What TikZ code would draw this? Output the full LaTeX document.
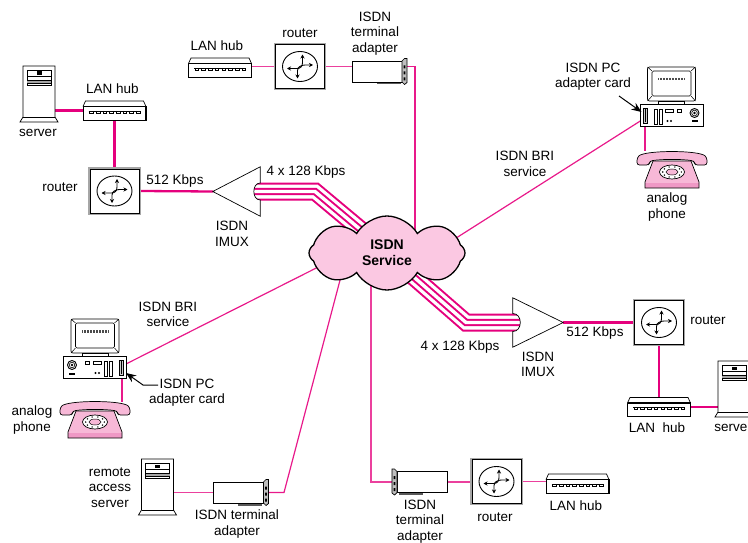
\documentclass[tikz,border=0pt]{standalone}
\usepackage{fontspec}
\setmainfont{Liberation Sans}
\usetikzlibrary{shapes.symbols,arrows.meta,calc}

\definecolor{isdnpink}{RGB}{229,0,125}
\definecolor{cloudpink}{RGB}{251,200,226}
\definecolor{phonepink}{RGB}{247,184,215}
\definecolor{phonedark}{RGB}{239,152,197}

\pgfdeclarelayer{background}
\pgfsetlayers{background,main}

\tikzset{
  lbl/.style={font=\fontsize{13.5}{15.5}\selectfont, align=center, inner sep=0pt},
  devbox/.style 2 args={inner sep=0pt, minimum width=#1, minimum height=#2},
  lan/.style={draw=isdnpink, line width=2.3pt},
  lanthin/.style={draw=isdnpink!75, line width=1.6pt},
  wan/.style={draw=isdnpink!90, line width=1.2pt},
  ink/.style={draw=black, line width=0.7pt},
  pointer/.style={-{Stealth[length=10pt,width=8pt]}, line width=1pt},
  % router: boxed ellipse with four arrows
  router/.pic={
    \draw[black!35, line width=1.4pt] (-25.5,-23) rectangle (25.5,23);
    \draw[ink, fill=white] (-24.5,-22) rectangle (24.5,22);
    \draw[line width=0.9pt] (0,0) ellipse [x radius=17.5, y radius=15];
    \draw[line width=0.9pt, {Stealth[length=4pt,width=4pt]}-{Stealth[length=4pt,width=4pt]}]
      (-13,2) -- (-3,2) .. controls (0.5,2) and (2.5,0) .. (2.5,-4) -- (2.5,-12);
    \draw[line width=0.9pt, {Stealth[length=4pt,width=4pt]}-{Stealth[length=4pt,width=4pt]}]
      (13,-1.5) -- (5,-1.5) .. controls (1.5,-1.5) and (-2.5,0.5) .. (-2.5,4) -- (-2.5,12);
  },
  % LAN hub: flat box with a row of ports
  hub/.pic={
    \draw[ink, fill=white] (-31.5,-4) rectangle (31.5,9.5);
    \draw[ink, fill=white] (-31.5,-4) -- (-29,-9.5) -- (29,-9.5) -- (31.5,-4);
    \draw[line width=1.5pt] (-31.5,-4) -- (31.5,-4);
    \draw[line width=1.3pt] (31.5,-4) -- (31.5,9.5);
    \draw[line width=0.5pt] (-26,0.5) -- (26,0.5);
    \foreach \k in {0,...,7}
      \draw[line width=0.6pt] ({-25+6.7*\k},0.5) -- ++(0,2) -- ++(3.6,0) -- ++(0,-2);
  },
  % tower server
  server/.pic={
    \draw[ink, fill=white] (-16,23) -- (-16,-28) -- (16,-28) -- (16,23) -- (19,28) -- (-19,28) -- cycle;
    \draw[line width=0.6pt] (-16,23) -- (16,23);
    \draw[line width=0.6pt] (-12,-24) rectangle (12,-9);
    \fill[black!35] (-12,-14) rectangle (12,-11);
    \draw[line width=0.5pt] (-12,-18) -- (12,-18) (-12,-14) -- (12,-14) (-12,-11) -- (12,-11);
    \fill (-2.5,-22.5) rectangle (2.5,-19);
  },
  % ISDN terminal adapter with its end plate
  adapter/.pic={
    \fill[black!65] (-3,10.5) rectangle (21,13);
    \draw[ink, fill=white] (-27.5,-10.5) rectangle (22.5,10.5);
    \draw[ink, fill=black!25] (22.5,-10.5) -- (25,-13) -- (27.5,-13) -- (27.5,11) -- (25,13) -- (22.5,10.5) -- cycle;
    \fill (24.2,-6) rectangle (25.8,-3) (24.2,0) rectangle (25.8,3) (24.2,6) rectangle (25.8,9);
  },
  % desktop PC with the ISDN card slot at its left
  pc/.pic={
    \draw[ink, fill=white, rounded corners=2pt] (-24,-30) rectangle (24,4);
    \draw[line width=0.6pt, rounded corners=1.5pt] (-19.5,-26) rectangle (19.5,-1);
    \draw[line width=0.5pt] (-24,-30) -- (-19.5,-26) (24,-30) -- (19.5,-26)
      (-24,4) -- (-19.5,-1) (24,4) -- (19.5,-1);
    \foreach \v in {-13,-11.5,...,13} \draw[line width=0.45pt, black!70] (\v,-19) -- (\v,-16.5);
    \draw[ink, fill=white] (-13,4) rectangle (13,7);
    \draw[ink, fill=white] (-31.5,7) rectangle (31.5,29);
    \draw[ink, fill=black!20] (-28.5,11) rectangle (-24.5,26);
    \draw[line width=0.5pt] (-26.5,12) -- (-26.5,25);
    \draw[ink] (-17,12) rectangle (-14,27) (-12.5,12) rectangle (-9.5,27);
    \draw[ink] (-6.5,12.5) rectangle (1.5,15.5) (6,12.5) rectangle (10,15.5);
    \fill (-4,24) circle (1.1) (-0.5,24) circle (1.1);
    \draw[line width=0.9pt] (23,16) circle (4.5);
    \draw[line width=0.6pt] (23,16) circle (2.8);
    \fill (23,16) circle (1.3);
    \fill (20,23.5) rectangle (26,25.5);
  },
  % analog telephone
  phone/.pic={
    \fill[phonepink] (-19,-9) -- (19,-9) -- (27,12) -- (27,18) -- (-27,18) -- (-27,12) -- cycle;
    \fill[phonedark] (-27,13) rectangle (27,18);
    \draw[ink] (-19,-9) -- (19,-9) -- (27,12) -- (27,18) -- (-27,18) -- (-27,12) -- cycle;
    \draw[ink, fill=phonepink, rounded corners=2.5pt]
      (-35,-5) -- (-35,-12) .. controls (-28,-20) and (28,-20) .. (35,-12) -- (35,-5) -- (23,-5) -- (22,-9)
      .. controls (10,-11) and (-10,-11) .. (-22,-9) -- (-23,-5) -- cycle;
    \draw[ink, fill=white] (0,2) ellipse [x radius=12.5, y radius=7];
    \draw[line width=0.5pt, fill=phonepink] (0,2) ellipse [x radius=6, y radius=3];
    \foreach \a in {0,36,...,324} \fill ({9.3*cos(\a)},{2+5.2*sin(\a)}) circle (0.8);
  }
}

\begin{document}
\begin{tikzpicture}[x=1pt, y=-1pt]
\useasboundingbox (0,0) rectangle (748,543);

% ---------- left site ----------
\node[devbox={32}{56}] (srvL) at (39,94) {};
\pic at (srvL.center) {server};
\node[devbox={63}{19}] (hubL) at (114.5,110.5) {};
\pic at (hubL.center) {hub};
\node[devbox={50}{44}] (rtL) at (114.5,191) {};
\pic at (rtL.center) {router};
\node[devbox={47}{49}] (imuxL) at (236.5,191.5) {};
\draw[ink, fill=white] (imuxL.west) -- (imuxL.north east) -- ($(imuxL.east)+(0,-8.5)$)
  .. controls +(-8.5,0) and +(-8.5,0) .. ($(imuxL.east)+(0,8.5)$) -- (imuxL.south east) -- cycle;

% ---------- top site ----------
\node[devbox={63}{20}] (hubT) at (220,67.5) {};
\pic at (hubT.center) {hub};
\node[devbox={50}{46}] (rtT) at (300,66.5) {};
\pic at (rtT.center) {router};
\node[devbox={55}{26}] (tA) at (379.5,71.5) {};
\pic at (tA.center) {adapter};

% ---------- PC top right ----------
\node[devbox={64}{60}] (pcR) at (671.5,97) {};
\pic at (pcR.center) {pc};
\node[devbox={72}{38}] (phR) at (672,170) {};
\pic at (phR.center) {phone};
\coordinate (slotR) at (645,118);
\coordinate (cardR) at (641.5,112);

% ---------- right site ----------
\node[devbox={50}{49}] (imuxR) at (538,322.5) {};
\draw[ink, fill=white] (imuxR.east) -- (imuxR.north west) -- ($(imuxR.west)+(0,-9)$)
  .. controls +(10,0) and +(10,0) .. ($(imuxR.west)+(0,9)$) -- (imuxR.south west) -- cycle;
\node[devbox={50}{44}] (rtR) at (659,322.5) {};
\pic at (rtR.center) {router};
\node[devbox={63}{19}] (hubR) at (659,407) {};
\pic at (hubR.center) {hub};
\node[devbox={32}{56}] (srvR) at (734,389) {};
\pic at (srvR.center) {server};

% ---------- PC left ----------
\node[devbox={64}{60}] (pcL) at (95,349) {};
\pic[xscale=-1] at (pcL.center) {pc};
\node[devbox={72}{36}] (phL) at (95,420) {};
\pic at (phL.center) {phone};
\coordinate (slotL) at (122,366);
\coordinate (cardL) at (126,373);

% ---------- bottom left ----------
\node[devbox={32}{56}] (srvB) at (157.5,487) {};
\pic at (srvB.center) {server};
\node[devbox={55}{26}] (tB) at (241,492.5) {};
\pic at (tB.center) {adapter};

% ---------- bottom middle ----------
\node[devbox={55}{26}] (tC) at (419.5,482) {};
\pic[xscale=-1] at (tC.center) {adapter};
\node[devbox={50}{44}] (rtB) at (496.5,481.5) {};
\pic at (rtB.center) {router};
\node[devbox={63}{19}] (hubB) at (577.5,483.5) {};
\pic at (hubB.center) {hub};

% ---------- ISDN cloud ----------
\node[cloud, draw, fill=cloudpink, line width=1.3pt, cloud puffs=8, cloud puff arc=120,
      aspect=2.1, minimum width=156pt, minimum height=74pt, inner sep=0pt, align=center,
      font=\bfseries\fontsize{14}{16}\selectfont] (isdn) at (387,253) {ISDN\\Service};

\coordinate (cTop) at (415,250);
\coordinate (cBRIr) at (420,261);
\coordinate (cBRIl) at (350,251);
\coordinate (cBL) at (344,265);
\coordinate (cBot) at (371,265);
\coordinate (cInL) at (385,250);
\coordinate (cInR) at (400,265);
\coordinate (kL) at (315,191.5);
\coordinate (kR) at (466,322.5);
\coordinate (kB) at (284,492.5);

% ---------- labels ----------
\node[lbl] (tSrvL) at (38,133) {server};
\node[lbl] (tHubL) at (112.5,89) {LAN hub};
\node[lbl] (tRtL) at (60,187) {router};
\node[lbl] (tRateL) at (175,181) {512 Kbps};
\node[lbl] (tTrunkL) at (306,172) {4 x 128 Kbps};
\node[lbl] (tImuxL) at (232,234) {ISDN\\IMUX};
\node[lbl] (tHubT) at (217,46) {LAN hub};
\node[lbl] (tRtT) at (300,33) {router};
\node[lbl] (tTA) at (375,33.5) {ISDN\\terminal\\adapter};
\node[lbl] (tCardR) at (593,76.5) {ISDN PC\\adapter card};
\node[lbl] (tBriR) at (525,164) {ISDN BRI\\service};
\node[lbl] (tPhR) at (667,207) {analog\\phone};
\node[lbl] (tBriL) at (168,314.5) {ISDN BRI\\service};
\node[lbl] (tCardL) at (187,392.5) {ISDN PC\\adapter card};
\node[lbl] (tPhL) at (32,420) {analog\\phone};
\node[lbl] (tTrunkR) at (460,347) {4 x 128 Kbps};
\node[lbl] (tImuxR) at (538,364.5) {ISDN\\IMUX};
\node[lbl] (tRateR) at (595,333) {512 Kbps};
\node[lbl] (tRtR) at (708,320) {router};
\node[lbl] (tHubR) at (657,428) {LAN\ \ hub};
\node[lbl] (tSrvR) at (733,428) {server};
\node[lbl] (tSrvB) at (110,487.5) {remote\\access\\server};
\node[lbl] (tTB) at (237,524) {ISDN terminal\\adapter};
\node[lbl] (tTC) at (420,521.5) {ISDN\\terminal\\adapter};
\node[lbl] (tRtB) at (495,517) {router};
\node[lbl] (tHubB) at (576,506) {LAN hub};

% ---------- card pointers ----------
\coordinate (pcArrowR) at (619,96);
\draw[pointer] (pcArrowR) -- (cardR);
\coordinate (pcArrowL) at (158,385);
\draw[pointer] (pcArrowL) -- ++(-15,0) -- (cardL);

% ---------- links ----------
\begin{pgfonlayer}{background}
  \draw[lan] (srvL.east |- hubL.west) -- (hubL.west);
  \draw[lan] (hubL.south) -- (rtL.north);
  \draw[lan] (rtL.east) -- (imuxL.west);
  \draw[lanthin] (hubT.east |- rtT.west) -- (rtT.west);
  \draw[lanthin] (rtT.east) -- (rtT.east -| tA.west);
  \draw[wan] (tA.east |- rtT.east) -| (cTop);
  \draw[wan] (slotR) -- (cBRIr);
  \draw[wan] (slotR) -- (slotR |- phR.north);
  \draw[wan] (slotL) -- (cBRIl);
  \draw[wan] (slotL) -- (slotL |- phL.north);
  \draw[lan] (imuxR.east) -- (rtR.west);
  \draw[lan] (rtR.south) -- (hubR.north);
  \draw[lan] (hubR.east) -- (hubR.east -| srvR.west);
  \draw[lanthin] (srvB.east |- tB.west) -- (tB.west);
  \draw[wan] (tB.east) -- (kB) -- (cBL);
  \draw[lanthin] (tC.west) -| (cBot);
  \draw[lanthin] (tC.east) -- (tC.east -| rtB.west);
  \draw[lanthin] (rtB.east) -- (rtB.east -| hubB.west);
  % four-channel trunks between the IMUXes and the cloud
  \foreach \w/\c in {18/isdnpink, 14/white, 7.4/isdnpink, 3.4/white} {
    \draw[line width=\w*1pt, draw=\c, line join=miter] ($(imuxL.east)+(-9,0)$) -- (kL) -- (cInL);
    \draw[line width=\w*1pt, draw=\c, line join=miter] ($(imuxR.west)+(9,0)$) -- (kR) -- (cInR);
  }
\end{pgfonlayer}
\end{tikzpicture}
\end{document}
